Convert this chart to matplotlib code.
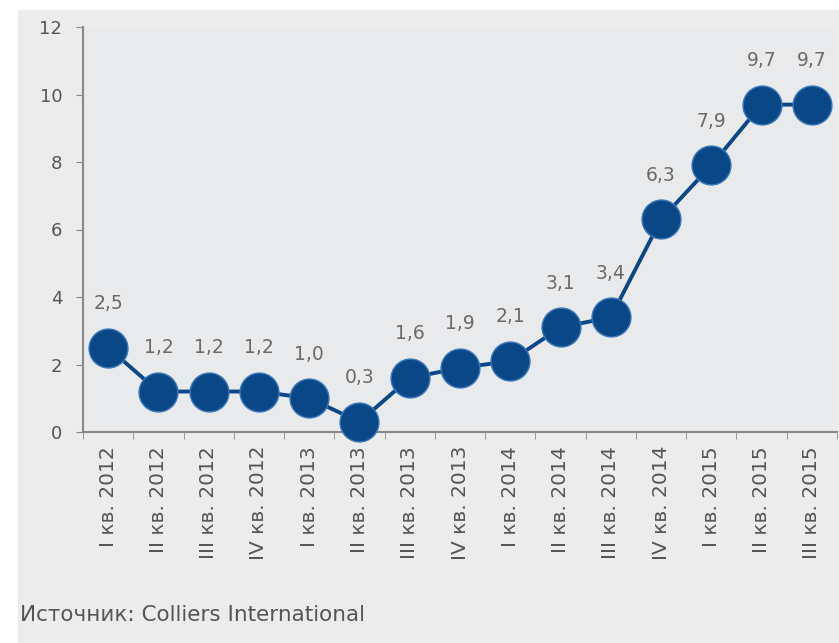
import matplotlib
matplotlib.use("Agg")
import matplotlib.pyplot as plt
from matplotlib.patches import Rectangle

plt.rcParams['font.family'] = ['DejaVu Sans']

categories = ["I кв. 2012", "II кв. 2012", "III кв. 2012", "IV кв. 2012",
              "I кв. 2013", "II кв. 2013", "III кв. 2013", "IV кв. 2013",
              "I кв. 2014", "II кв. 2014", "III кв. 2014", "IV кв. 2014",
              "I кв. 2015", "II кв. 2015", "III кв. 2015"]
values = [2.5, 1.2, 1.2, 1.2, 1.0, 0.3, 1.6, 1.9, 2.1, 3.1, 3.4, 6.3, 7.9, 9.7, 9.7]
yticks = [0, 2, 4, 6, 8, 10, 12]

W, H = 839, 643
fig = plt.figure(figsize=(W / 100, H / 100), dpi=100)
fig.patch.set_facecolor('#ececec')
# white margins top & left
fig.patches.append(Rectangle((0, 1 - 10 / H), 1, 10 / H, transform=fig.transFigure,
                             facecolor='white', edgecolor='none', zorder=0))
fig.patches.append(Rectangle((0, 0), 18 / W, 1, transform=fig.transFigure,
                             facecolor='white', edgecolor='none', zorder=0))

ax = fig.add_axes([83 / W, 1 - 432 / H, (837 - 83) / W, (432 - 27) / H])
ax.set_facecolor('#e9eaec')
n = len(categories)
x = list(range(n))
ax.plot(x, values, color='#0a4786', lw=2.8, marker='o', ms=28,
        markerfacecolor='#0a4786', markeredgecolor='#3a78bb', markeredgewidth=1.0,
        clip_on=False, zorder=3)
for xi, v in zip(x, values):
    ax.annotate(f"{v:.1f}".replace('.', ','), (xi, v), xytext=(0, 25),
                textcoords='offset points', ha='center', va='bottom',
                fontsize=13.5, color='#6a6a6a')

ax.set_xlim(-0.5, n - 0.5)
ax.set_ylim(0, 12)
ax.set_yticks(yticks)
ax.set_yticklabels([str(t) for t in yticks], fontsize=13, color='#555555')
ax.set_xticks(x)
ax.set_xticklabels(categories, rotation=90, fontsize=14.5, color='#555555')
ax.tick_params(axis='x', length=0, pad=10)
ax.set_xticks([i - 0.5 for i in range(n + 1)], minor=True)
ax.tick_params(axis='x', which='minor', length=5, color='#888888', direction='out')
ax.tick_params(axis='y', length=5, color='#888888', direction='out', pad=10)
for s in ['top', 'right']:
    ax.spines[s].set_visible(False)
for s in ['left', 'bottom']:
    ax.spines[s].set_color('#888888')
    ax.spines[s].set_linewidth(1.5)

fig.text(20 / W, 1 - 615 / H, "Источник: Colliers International", fontsize=15.5,
         color='#555555', va='center', ha='left')

fig.savefig('out.png', dpi=100, facecolor=fig.get_facecolor())
